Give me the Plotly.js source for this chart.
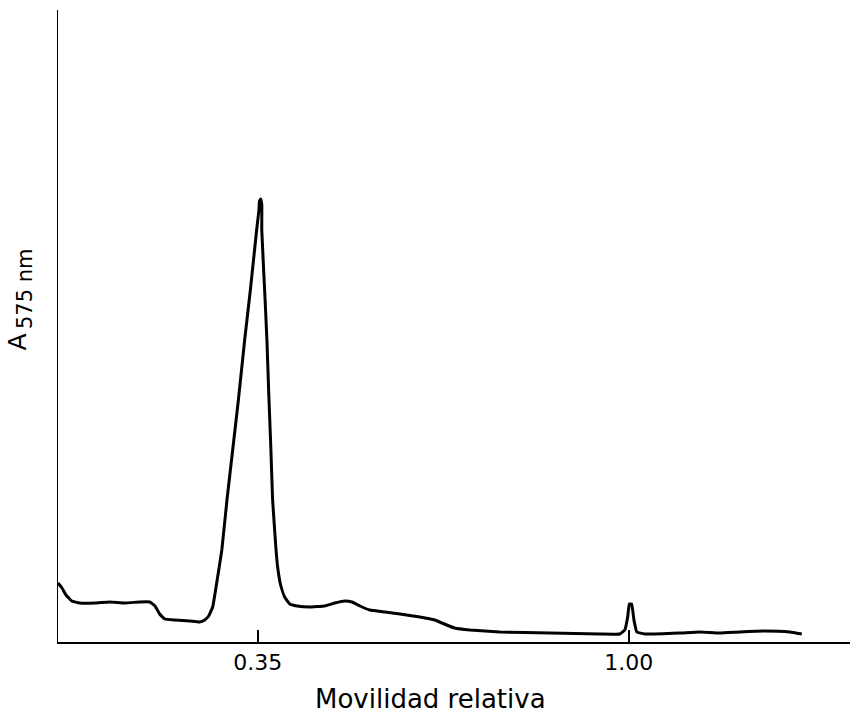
<!DOCTYPE html>
<html>
<head>
<meta charset="utf-8">
<script src="https://cdn.plot.ly/plotly-3.0.1.min.js"></script>
<style>html,body{margin:0;padding:0;background:#fff;}#chart{width:850px;height:719px;}</style>
</head>
<body>
<div id="chart"></div>
<script>
// Relative mobility (x) and absorbance at 575 nm (arbitrary units, y)
const mobility = [
  0.000, 0.007, 0.014, 0.024, 0.038, 0.065, 0.091, 0.117, 0.143, 0.161,
  0.170, 0.178, 0.187, 0.205, 0.231, 0.248,
  0.257, 0.264, 0.271, 0.278, 0.287, 0.296, 0.306, 0.316, 0.327, 0.337,
  0.348, 0.352, 0.353, 0.355,
  0.357, 0.357, 0.362, 0.366, 0.369, 0.373, 0.376, 0.382, 0.385, 0.390,
  0.397, 0.406, 0.419,
  0.441, 0.467, 0.485, 0.502, 0.515, 0.529, 0.546, 0.573, 0.599,
  0.634, 0.660, 0.681, 0.695, 0.722, 0.774, 0.862, 0.949, 0.984, 0.993,
  0.998, 1.001, 1.005, 1.009, 1.014, 1.028, 1.089, 1.124, 1.159, 1.194,
  1.238, 1.282, 1.303
];
const absorbance = [
  0.59, 0.54, 0.47, 0.41, 0.39, 0.39, 0.40, 0.39, 0.40, 0.40,
  0.36, 0.28, 0.23, 0.22, 0.21, 0.20,
  0.22, 0.26, 0.35, 0.59, 0.92, 1.42, 1.92, 2.42, 3.02, 3.52,
  4.12, 4.32, 4.41, 4.43,
  4.37, 4.12, 3.52, 3.02, 2.52, 1.92, 1.42, 0.92, 0.74, 0.57,
  0.45, 0.38, 0.36,
  0.35, 0.36, 0.39, 0.41, 0.40, 0.36, 0.32, 0.30, 0.28,
  0.25, 0.22, 0.17, 0.14, 0.12, 0.10, 0.09, 0.08, 0.08, 0.12,
  0.25, 0.38, 0.38, 0.22, 0.10, 0.08, 0.09, 0.10, 0.09, 0.10,
  0.11, 0.10, 0.08
];
const tickValues = [0.35, 1.00];
const tickLabels = ["0.35", "1.00"];
const xTitle = "Movilidad relativa";
const yTitleMain = "A";
const yTitleSub = "575 nm";

const font = "DejaVu Sans, Liberation Sans, sans-serif";

const trace = {
  x: mobility,
  y: absorbance,
  type: "scatter",
  mode: "lines",
  line: {color: "#000", width: 3, shape: "spline", smoothing: 0.3},
  cliponaxis: false,
  hoverinfo: "skip"
};

const layout = {
  width: 850,
  height: 719,
  margin: {l: 58, r: 0, t: 10, b: 77},
  paper_bgcolor: "#fff",
  plot_bgcolor: "#fff",
  showlegend: false,
  xaxis: {
    range: [0, 1.3875],
    showline: true, linecolor: "#000", linewidth: 1.5,
    showgrid: false, zeroline: false,
    ticks: "inside", ticklen: 12, tickwidth: 1.5, tickcolor: "#000",
    tickvals: tickValues, ticktext: tickLabels,
    tickfont: {family: font, size: 22, color: "#000"},
    fixedrange: true
  },
  yaxis: {
    range: [0, 6.32],
    showline: true, linecolor: "#000", linewidth: 1.5,
    showgrid: false, zeroline: false,
    ticks: "", showticklabels: false,
    fixedrange: true
  },
  annotations: [
    {
      text: xTitle, xref: "paper", yref: "paper",
      x: 0.4697, y: -0.0902, xanchor: "center", yanchor: "middle",
      showarrow: false, font: {family: font, size: 26, color: "#000"}
    },
    {
      text: yTitleMain, xref: "paper", yref: "paper",
      x: -0.0499, y: 0.4747, xanchor: "center", yanchor: "middle",
      textangle: -90, showarrow: false,
      font: {family: font, size: 25, color: "#000"}
    },
    {
      text: yTitleSub, xref: "paper", yref: "paper",
      x: -0.0417, y: 0.560, xanchor: "center", yanchor: "middle",
      textangle: -90, showarrow: false,
      font: {family: font, size: 21, color: "#000"}
    }
  ]
};

Plotly.newPlot("chart", [trace], layout, {displayModeBar: false, staticPlot: true});
</script>
</body>
</html>
